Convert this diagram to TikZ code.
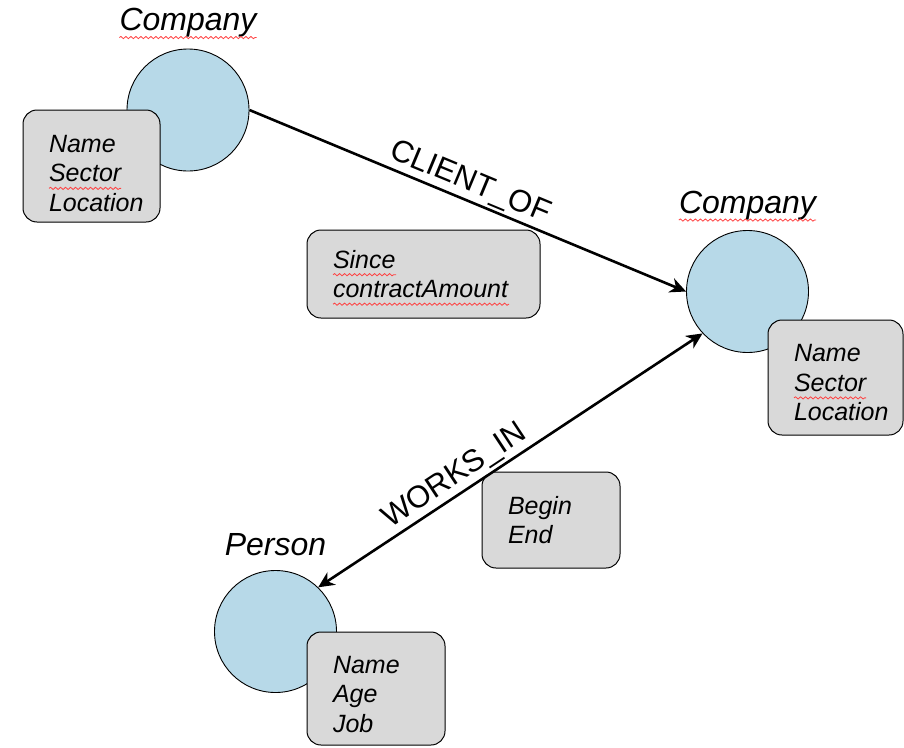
\documentclass[tikz,border=0pt]{standalone}
\usepackage{fontspec}
\setmainfont{Liberation Sans}
\usetikzlibrary{arrows.meta,positioning,decorations.pathmorphing}
\definecolor{entblue}{RGB}{183,217,232}
\hyphenpenalty=10000
\tikzset{
  ent/.style={draw, circle, fill=entblue, line width=0.9pt, minimum size=122pt, inner sep=0pt},
  prop/.style={draw, rectangle, rounded corners=14pt, fill=black!15, line width=1pt, align=left,
    font=\fontsize{25}{29.5}\selectfont\itshape, inner xsep=26pt, inner ysep=0pt},
  ttl/.style={font=\fontsize{32}{36}\selectfont\itshape, inner sep=0pt, anchor=base},
  rel/.style={font=\fontsize{31}{34}\selectfont, sloped, above=2pt, inner sep=0pt},
  arr/.style={-{Stealth[length=16pt, width=15pt, inset=5pt]}, line width=2.6pt},
  darr/.style={{Stealth[length=16pt, width=15pt, inset=5pt]}-{Stealth[length=16pt, width=15pt, inset=5pt]}, line width=2.6pt},
  squig/.style={draw=red!75, line width=0.8pt, decorate, decoration={snake, amplitude=1.1pt, segment length=5pt}},
}
\begin{document}
\begin{tikzpicture}[x=1pt, y=-1pt]
\useasboundingbox (0,0) rectangle (904,747);
% entities
\node[ent] (c1) at (188,110) {};
\node[ent] (c2) at (747.5,291.5) {};
\node[ent] (p) at (275.5,631.5) {};
\node[ttl] (c1t) at ([yshift=18pt]c1.north) {Company};
\node[ttl] (c2t) at ([yshift=17pt]c2.north) {Company};
\node[ttl] (pt) at ([yshift=15pt]p.north) {Person};
% properties
\node[prop, text width=85pt, text height=32pt, minimum height=112pt] (c1p) at (91.5,166) {Name\\Sector\\Location};
\node[prop, text width=83pt, text height=28pt, minimum height=115pt] (c2p) at (835.5,377.5) {Name\\Sector\\Location};
\node[prop, text width=86pt, text height=29pt, minimum height=113pt] (pp) at (376,688.5) {Name\\Age\\Job};
\node[prop, text width=181pt, minimum height=88pt] (clp) at (423.5,274) {Since\\contractAmount};
\node[prop, text width=86pt, minimum height=96pt] (wip) at (551,520) {Begin\\End};
% relationships
\draw[arr] (c1.east) -- (c2.west) node[rel, pos=0.49]{CLIENT\_OF};
\draw[darr] (p.46) -- (c2.223) node[rel, pos=0.38]{WORKS\_IN};
% spelling marks
\draw[squig] ([yshift=-7pt]c1t.base west) -- ([yshift=-7pt]c1t.base east);
\draw[squig] ([yshift=-7pt]c2t.base west) -- ([yshift=-7pt]c2t.base east);
\draw[squig] ([yshift=-36pt]c1p.text) -- ++(72,0);
\draw[squig] ([yshift=-36pt]c2p.text) -- ++(72,0);
\draw[squig] ([yshift=-6.5pt]clp.text) -- ++(63,0);
\draw[squig] ([yshift=-36pt]clp.text) -- ++(176,0);
\end{tikzpicture}
\end{document}
